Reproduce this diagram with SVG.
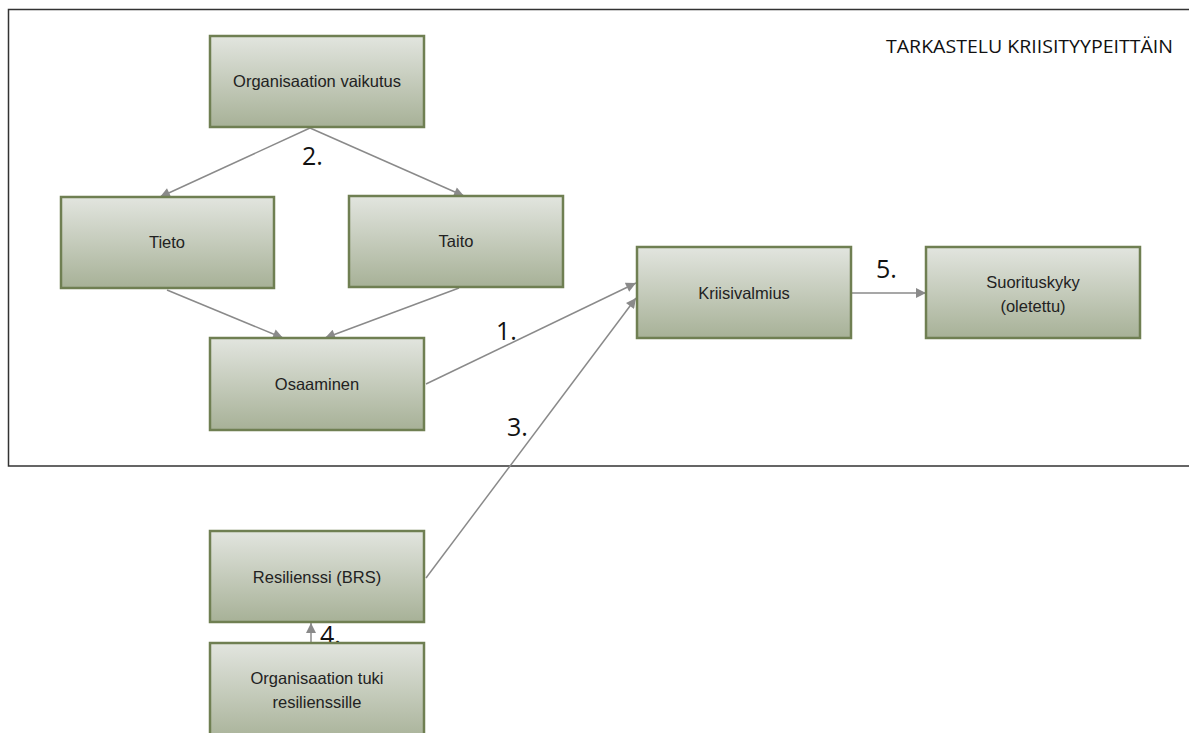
<svg xmlns="http://www.w3.org/2000/svg" width="1189" height="733" viewBox="0 0 1189 733">
<defs>
<linearGradient id="g" x1="0" y1="0" x2="0" y2="1">
<stop offset="0" stop-color="#e2e5df"/>
<stop offset="1" stop-color="#a7b197"/>
</linearGradient>
<marker id="a" viewBox="0 0 10 10" refX="10" refY="5" markerWidth="12" markerHeight="10" orient="auto" markerUnits="userSpaceOnUse">
<path d="M0,0 L10,5 L0,10 z" fill="#8a8a8a"/>
</marker>
</defs>
<style>
.box{fill:url(#g);stroke:#6f7f52;stroke-width:2.5}
.t{font-family:"Liberation Sans",Arial,sans-serif;font-size:16.5px;fill:#222;text-anchor:middle}
.n{font-family:"Open Sans","Liberation Sans",sans-serif;font-size:25px;fill:#111}
.c{fill:none;stroke:#8a8a8a;stroke-width:1.5}
</style>
<rect width="1189" height="733" fill="#fff"/>
<path d="M1189,9.5 H8.5 V466 H1189" fill="none" stroke="#333" stroke-width="1.5"/>
<text x="886" y="53" font-family="Open Sans,Liberation Sans,sans-serif" font-size="18" fill="#111" textLength="287" lengthAdjust="spacingAndGlyphs">TARKASTELU KRIISITYYPEITTÄIN</text>
<g id="connectors">
<line class="c" x1="310" y1="128" x2="160" y2="197" marker-end="url(#a)"/>
<line class="c" x1="310" y1="128" x2="464" y2="196" marker-end="url(#a)"/>
<line class="c" x1="167" y1="290" x2="283" y2="338" marker-end="url(#a)"/>
<line class="c" x1="459" y1="288" x2="325" y2="338" marker-end="url(#a)"/>
<line class="c" x1="426" y1="384" x2="636" y2="283" marker-end="url(#a)"/>
<line class="c" x1="426" y1="578" x2="636" y2="298" marker-end="url(#a)"/>
<line class="c" x1="851" y1="293" x2="926" y2="293" marker-end="url(#a)"/>
<line class="c" x1="311" y1="643" x2="311" y2="623" marker-end="url(#a)"/>
<text class="n" x="302" y="165">2.</text>
<text class="n" x="496" y="340">1.</text>
<text class="n" x="507" y="436">3.</text>
<text class="n" x="320" y="644">4.</text>
<text class="n" x="876" y="278">5.</text>
</g>
<g id="n_org"><rect class="box" x="210" y="36" width="214" height="91"/><text class="t" x="317" y="87">Organisaation vaikutus</text></g>
<g id="n_tieto"><rect class="box" x="61" y="197" width="213" height="91"/><text class="t" x="167" y="248">Tieto</text></g>
<g id="n_taito"><rect class="box" x="349" y="196" width="214" height="91"/><text class="t" x="456" y="247">Taito</text></g>
<g id="n_osaaminen"><rect class="box" x="210" y="338" width="214" height="92"/><text class="t" x="317" y="390">Osaaminen</text></g>
<g id="n_kriisi"><rect class="box" x="637" y="247" width="214" height="91"/><text class="t" x="744" y="299">Kriisivalmius</text></g>
<g id="n_suor"><rect class="box" x="926" y="247" width="214" height="91"/><text class="t" x="1033" y="288">Suorituskyky</text><text class="t" x="1033" y="312">(oletettu)</text></g>
<g id="n_resil"><rect class="box" x="210" y="531" width="214" height="91"/><text class="t" x="317" y="583">Resilienssi (BRS)</text></g>
<g id="n_tuki"><rect class="box" x="210" y="643" width="214" height="100"/><text class="t" x="317" y="684">Organisaation tuki</text><text class="t" x="317" y="708">resilienssille</text></g>
</svg>
